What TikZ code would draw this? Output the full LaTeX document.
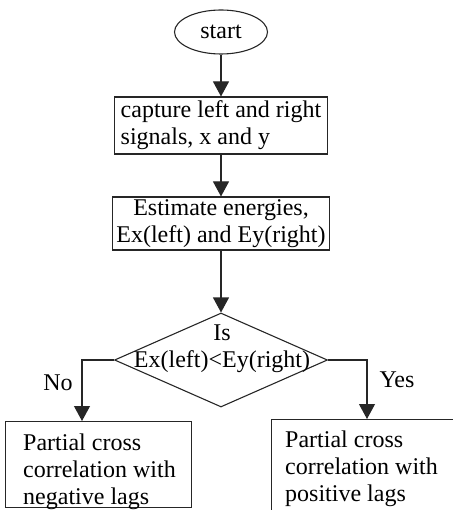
\documentclass[tikz,border=0pt]{standalone}
\usepackage{fontspec}
\setmainfont{Liberation Serif}
\usetikzlibrary{shapes.geometric,arrows.meta}

\begin{document}
\begin{tikzpicture}[x=1pt, y=-1pt,
        every node/.style={font=\fontsize{24}{27}\selectfont, text=black},
        box/.style={rectangle, draw=black!85, line width=1.1pt, inner sep=0pt},
        arr/.style={-{Triangle[width=16pt,length=15pt]}, draw=black!85, line width=1.1pt}]
        \useasboundingbox (0,0) rectangle (452,510);

        % Define the blocks
        \node[ellipse, draw=black!85, line width=1.1pt, minimum width=93pt, minimum height=44pt, inner sep=0pt] (start) at (221,32) {start};
        \node[box, minimum width=213pt, minimum height=57pt, align=left] (capture) at (221,125.5) {capture left and right\\signals, x and y};
        \node[box, minimum width=217pt, minimum height=53pt, align=center] (energy) at (221,223.5) {Estimate energies,\\Ex(left) and Ey(right)};
        \node[diamond, draw=black!85, line width=1.1pt, minimum width=213pt, minimum height=94pt, inner sep=0pt] (test) at (221,360) {};
        \node[align=center, inner sep=0pt] (testtext) at (222,349) {Is\\Ex(left)<Ey(right)};

        % Define the two outcomes
        \node[box, anchor=north west, minimum width=186pt, minimum height=86pt] (neg) at (5,421) {};
        \node[align=left, anchor=north west, inner sep=0pt] (negtext) at (23,433.6) {Partial cross\\correlation with\\negative lags};
        \node[box, anchor=north west, minimum width=200pt, minimum height=100pt] (pos) at (271,419) {};
        \node[align=left, anchor=north west, inner sep=0pt] (postext) at (285,430.6) {Partial cross\\correlation with\\positive lags};

        % Define the edges
        \draw[arr] (start) -- (capture);
        \draw[arr] (capture) -- (energy);
        \draw[arr] (energy) -- (test);
        \draw[arr] (test.west) -| ([xshift=77pt]neg.north west);
        \draw[arr] (test.east) -| ([xshift=96pt]pos.north west);

        % Branch labels
        \node (no) at (58,383) {No};
        \node (yes) at (397,380) {Yes};

    \end{tikzpicture}
\end{document}
